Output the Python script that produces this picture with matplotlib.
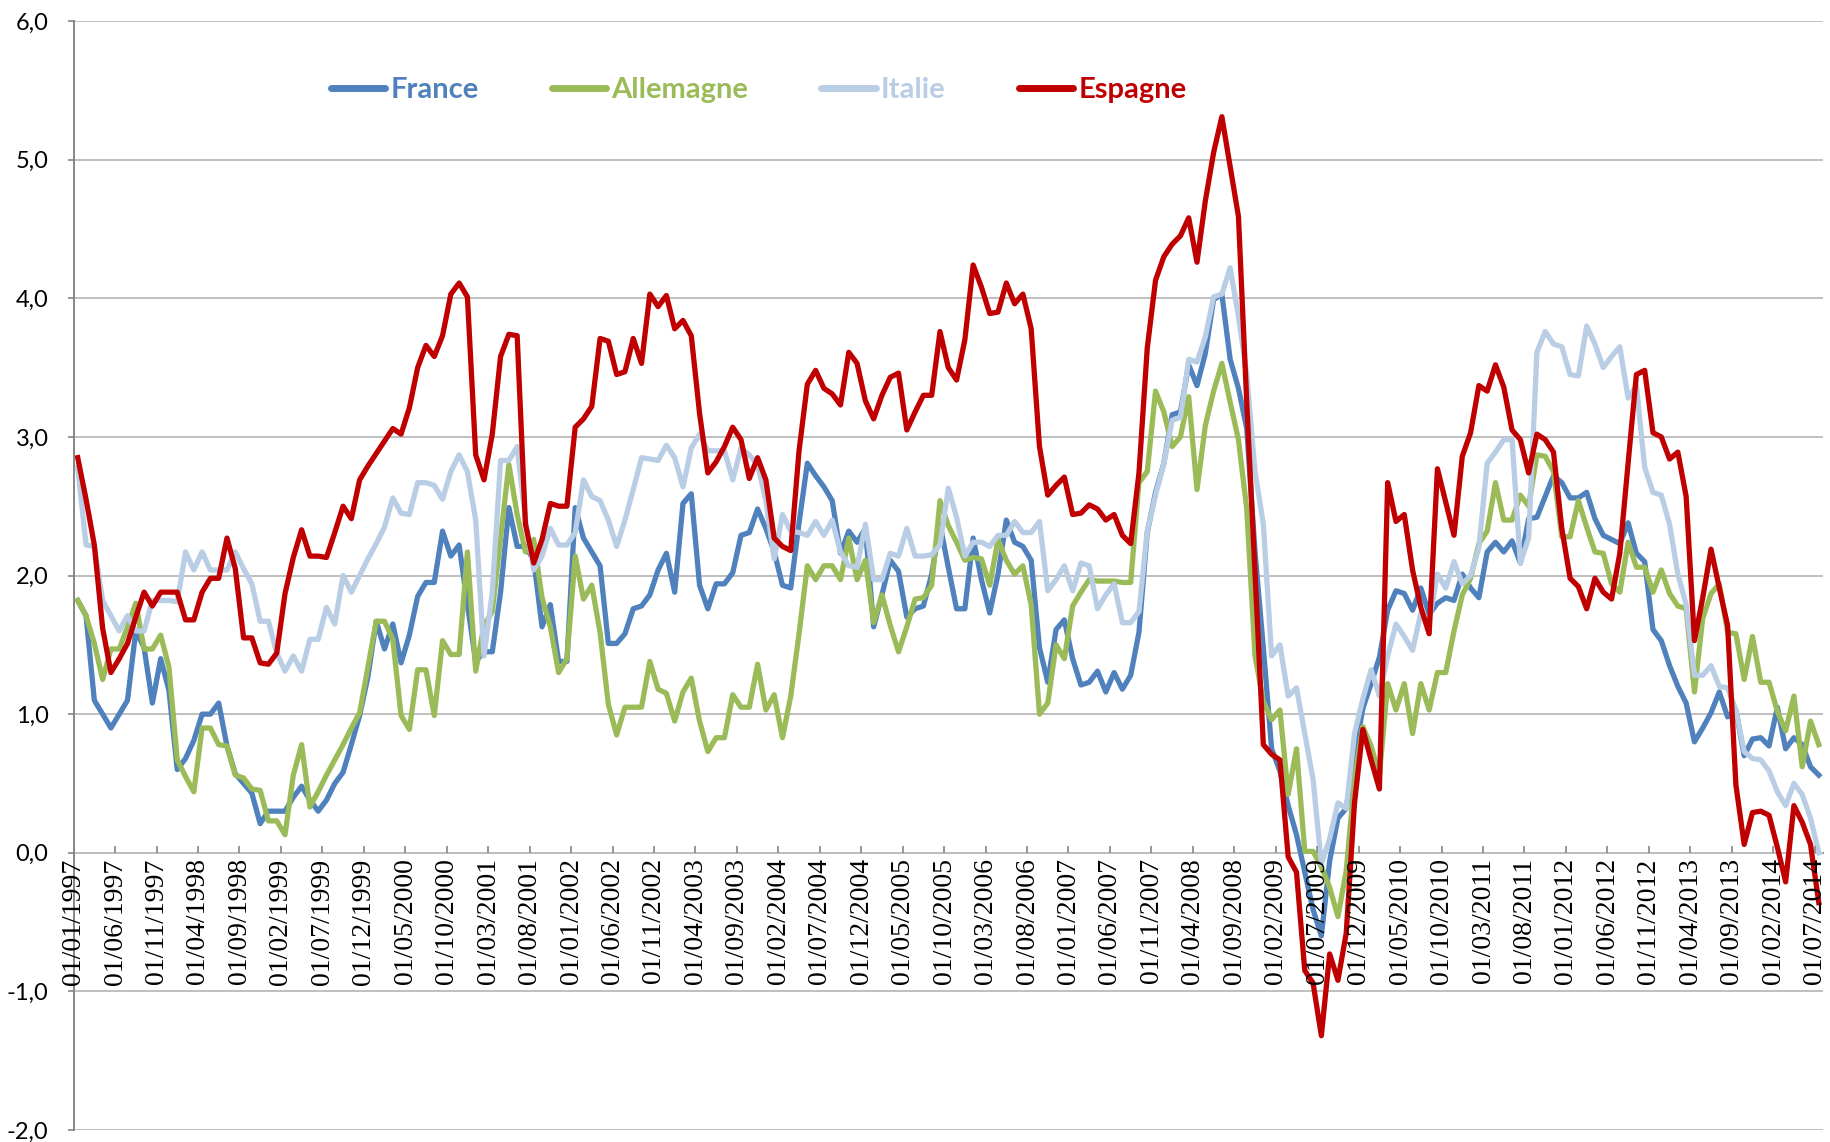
import matplotlib.pyplot as plt
import numpy as np
import pandas as pd
from matplotlib.ticker import FuncFormatter

# monthly points, Jan 1997 -> Jul 2014
months = pd.date_range("1997-01-01", "2014-07-01", freq="MS")

france = [
    1.82, 1.71, 1.10, 1.00, 0.90, 1.00, 1.10, 1.60, 1.48, 1.08, 1.40, 1.17,
    0.60, 0.68, 0.81, 1.00, 1.00, 1.08, 0.77, 0.57, 0.50, 0.43, 0.21, 0.30,
    0.30, 0.30, 0.40, 0.48, 0.38, 0.30, 0.38, 0.50, 0.58, 0.78, 0.99, 1.27,
    1.67, 1.47, 1.65, 1.37, 1.57, 1.85, 1.95, 1.95, 2.32, 2.14, 2.22, 1.79,
    1.38, 1.45, 1.45, 1.88, 2.49, 2.21, 2.21, 2.11, 1.63, 1.79, 1.38, 1.38,
    2.49, 2.27, 2.17, 2.07, 1.51, 1.51, 1.58, 1.76, 1.78, 1.86, 2.04, 2.16,
    1.88, 2.52, 2.59, 1.93, 1.76, 1.94, 1.94, 2.02, 2.29, 2.31, 2.48, 2.34,
    2.17, 1.93, 1.91, 2.38, 2.81, 2.72, 2.64, 2.54, 2.16, 2.32, 2.24, 2.34,
    1.63, 1.86, 2.11, 2.03, 1.70, 1.76, 1.78, 2.01, 2.37, 2.06, 1.76, 1.76,
    2.27, 1.97, 1.73, 2.01, 2.40, 2.24, 2.21, 2.11, 1.48, 1.23, 1.61, 1.68,
    1.40, 1.21, 1.23, 1.31, 1.16, 1.30, 1.18, 1.28, 1.59, 2.31, 2.60, 2.81,
    3.16, 3.18, 3.52, 3.37, 3.60, 3.99, 4.03, 3.56, 3.35, 3.06, 2.17, 1.48,
    0.75, 0.59, 0.34, 0.13, -0.14, -0.41, -0.60, -0.06, 0.25, 0.32, 0.70, 1.04,
    1.22, 1.41, 1.75, 1.89, 1.87, 1.75, 1.91, 1.72, 1.80, 1.84, 1.82, 2.01,
    1.91, 1.84, 2.17, 2.24, 2.17, 2.25, 2.09, 2.41, 2.42, 2.57, 2.72, 2.67,
    2.56, 2.56, 2.60, 2.41, 2.29, 2.26, 2.23, 2.38, 2.16, 2.10, 1.61, 1.53,
    1.35, 1.20, 1.08, 0.80, 0.90, 1.01, 1.16, 0.98, 1.03, 0.70, 0.82, 0.83,
    0.77, 1.05, 0.75, 0.83, 0.78, 0.62, 0.56,
]

allemagne = [
    1.82, 1.71, 1.51, 1.25, 1.47, 1.47, 1.63, 1.80, 1.47, 1.47, 1.57, 1.34,
    0.67, 0.55, 0.44, 0.90, 0.90, 0.78, 0.77, 0.56, 0.54, 0.46, 0.45, 0.23,
    0.23, 0.13, 0.56, 0.78, 0.33, 0.44, 0.56, 0.67, 0.78, 0.90, 1.01, 1.34,
    1.67, 1.67, 1.54, 0.99, 0.89, 1.32, 1.32, 0.99, 1.53, 1.43, 1.43, 2.17,
    1.31, 1.64, 1.74, 2.27, 2.80, 2.44, 2.17, 2.26, 1.84, 1.63, 1.30, 1.40,
    2.14, 1.83, 1.93, 1.59, 1.07, 0.85, 1.05, 1.05, 1.05, 1.38, 1.18, 1.15,
    0.95, 1.16, 1.26, 0.95, 0.73, 0.83, 0.83, 1.14, 1.05, 1.05, 1.36, 1.03,
    1.14, 0.83, 1.13, 1.58, 2.07, 1.97, 2.07, 2.07, 1.97, 2.27, 1.97, 2.11,
    1.66, 1.86, 1.64, 1.45, 1.63, 1.83, 1.84, 1.93, 2.54, 2.36, 2.24, 2.11,
    2.13, 2.12, 1.93, 2.26, 2.11, 2.01, 2.07, 1.79, 1.00, 1.08, 1.50, 1.40,
    1.78, 1.88, 1.97, 1.96, 1.96, 1.96, 1.95, 1.95, 2.67, 2.75, 3.33, 3.18,
    2.93, 3.00, 3.29, 2.62, 3.08, 3.33, 3.53, 3.25, 2.98, 2.48, 1.42, 1.09,
    0.96, 1.03, 0.42, 0.75, 0.01, 0.01, -0.10, -0.25, -0.46, -0.13, 0.53, 0.91,
    0.77, 0.56, 1.22, 1.03, 1.22, 0.86, 1.22, 1.03, 1.30, 1.30, 1.60, 1.86,
    1.98, 2.23, 2.32, 2.67, 2.40, 2.40, 2.58, 2.50, 2.87, 2.86, 2.75, 2.28,
    2.28, 2.54, 2.35, 2.17, 2.16, 1.94, 1.88, 2.24, 2.06, 2.06, 1.88, 2.04,
    1.87, 1.78, 1.76, 1.16, 1.69, 1.87, 1.94, 1.59, 1.58, 1.25, 1.56, 1.23,
    1.23, 1.02, 0.88, 1.13, 0.62, 0.95, 0.78,
]

italie = [
    2.78, 2.22, 2.21, 1.82, 1.71, 1.60, 1.71, 1.60, 1.60, 1.82, 1.82, 1.82,
    1.81, 2.17, 2.04, 2.17, 2.04, 2.04, 2.04, 2.17, 2.05, 1.94, 1.67, 1.67,
    1.44, 1.31, 1.42, 1.31, 1.54, 1.54, 1.77, 1.65, 2.00, 1.88, 2.00, 2.12,
    2.23, 2.35, 2.56, 2.45, 2.44, 2.67, 2.67, 2.65, 2.55, 2.75, 2.87, 2.75,
    2.40, 1.42, 1.88, 2.83, 2.83, 2.93, 2.40, 2.04, 2.14, 2.34, 2.22, 2.22,
    2.31, 2.69, 2.57, 2.54, 2.40, 2.21, 2.40, 2.62, 2.85, 2.84, 2.83, 2.94,
    2.85, 2.64, 2.92, 3.02, 2.90, 2.90, 2.90, 2.69, 2.92, 2.87, 2.80, 2.54,
    2.12, 2.44, 2.32, 2.31, 2.29, 2.39, 2.29, 2.40, 2.17, 2.07, 2.06, 2.37,
    1.97, 1.97, 2.16, 2.14, 2.34, 2.14, 2.14, 2.15, 2.22, 2.63, 2.42, 2.14,
    2.24, 2.24, 2.21, 2.29, 2.29, 2.39, 2.31, 2.31, 2.39, 1.89, 1.97, 2.07,
    1.89, 2.09, 2.07, 1.76, 1.86, 1.94, 1.66, 1.66, 1.74, 2.32, 2.58, 2.81,
    3.12, 3.14, 3.56, 3.54, 3.72, 4.01, 4.03, 4.22, 3.87, 3.45, 2.75, 2.37,
    1.42, 1.50, 1.13, 1.19, 0.86, 0.53, -0.08, 0.10, 0.36, 0.32, 0.86, 1.11,
    1.32, 1.13, 1.42, 1.65, 1.56, 1.46, 1.73, 1.67, 2.01, 1.91, 2.10, 1.94,
    2.00, 2.20, 2.81, 2.89, 2.98, 2.98, 2.09, 2.27, 3.61, 3.76, 3.67, 3.65,
    3.45, 3.44, 3.80, 3.67, 3.50, 3.58, 3.65, 3.28, 3.37, 2.78, 2.60, 2.58,
    2.37, 2.01, 1.79, 1.28, 1.28, 1.35, 1.20, 1.19, 1.03, 0.73, 0.68, 0.67,
    0.59, 0.44, 0.34, 0.50, 0.42, 0.25, 0.00,
]

espagne = [
    2.85, 2.55, 2.22, 1.62, 1.30, 1.40, 1.51, 1.70, 1.88, 1.78, 1.88, 1.88,
    1.88, 1.68, 1.68, 1.88, 1.98, 1.98, 2.27, 2.05, 1.55, 1.55, 1.37, 1.36,
    1.44, 1.87, 2.13, 2.33, 2.14, 2.14, 2.13, 2.31, 2.50, 2.41, 2.69, 2.79,
    2.88, 2.97, 3.06, 3.02, 3.21, 3.50, 3.66, 3.58, 3.73, 4.03, 4.11, 4.01,
    2.87, 2.69, 3.02, 3.58, 3.74, 3.73, 2.37, 2.09, 2.26, 2.52, 2.50, 2.50,
    3.07, 3.13, 3.22, 3.71, 3.69, 3.45, 3.47, 3.71, 3.53, 4.03, 3.94, 4.02,
    3.78, 3.84, 3.73, 3.17, 2.74, 2.82, 2.93, 3.07, 2.98, 2.70, 2.85, 2.69,
    2.27, 2.21, 2.18, 2.90, 3.38, 3.48, 3.35, 3.31, 3.23, 3.61, 3.53, 3.26,
    3.13, 3.30, 3.43, 3.46, 3.05, 3.18, 3.30, 3.30, 3.76, 3.50, 3.41, 3.70,
    4.24, 4.08, 3.89, 3.90, 4.11, 3.96, 4.03, 3.78, 2.93, 2.58, 2.65, 2.71,
    2.44, 2.45, 2.51, 2.48, 2.40, 2.44, 2.29, 2.23, 2.74, 3.64, 4.13, 4.30,
    4.39, 4.45, 4.58, 4.26, 4.70, 5.05, 5.31, 4.95, 4.59, 3.25, 2.02, 0.78,
    0.71, 0.67, -0.03, -0.14, -0.85, -0.94, -1.32, -0.73, -0.92, -0.58, 0.36, 0.89,
    0.67, 0.46, 2.67, 2.39, 2.44, 2.04, 1.77, 1.58, 2.77, 2.53, 2.29, 2.86,
    3.03, 3.37, 3.33, 3.52, 3.36, 3.05, 2.98, 2.74, 3.02, 2.98, 2.89, 2.34,
    1.98, 1.92, 1.76, 1.98, 1.88, 1.83, 2.16, 2.81, 3.45, 3.48, 3.03, 3.00,
    2.84, 2.89, 2.57, 1.53, 1.84, 2.19, 1.91, 1.64, 0.49, 0.06, 0.29, 0.30,
    0.27, 0.04, -0.21, 0.34, 0.22, 0.06, -0.36,
]

series = [
    ("France", france, "#4F81BD"),
    ("Allemagne", allemagne, "#9BBB59"),
    ("Italie", italie, "#B9CDE5"),
    ("Espagne", espagne, "#C00000"),
]

fig = plt.figure(figsize=(18.31, 11.42), dpi=100)
ax = fig.add_axes([0.0402, 0.0105, 0.9554, 0.9711])

# spine moves first: set_position resets the tick labels
for side in ("top", "right"):
    ax.spines[side].set_visible(False)
ax.spines["left"].set_color("#868686")
ax.spines["left"].set_linewidth(1.4)
ax.spines["bottom"].set_position(("data", 0))
ax.spines["bottom"].set_color("#868686")
ax.spines["bottom"].set_linewidth(1.4)
ax.spines["bottom"].set_zorder(1)

# points sit in the middle of each monthly slot
x = np.arange(len(months)) + 0.5
for name, vals, color in series:
    ax.plot(x, vals, color=color, lw=3.8, label=name, solid_joinstyle="round")

ax.set_xlim(0, len(months))
ax.set_ylim(-2, 6)

ax.set_yticks(np.arange(-2, 7))
ax.yaxis.set_major_formatter(FuncFormatter(lambda v, _: f"{v:.1f}".replace(".", ",")))
ax.grid(axis="y", color="#BFBFBF", lw=1.4)

tick_idx = np.arange(0, len(months), 5)
ax.set_xticks(tick_idx)
ax.set_xticklabels([months[i].strftime("%d/%m/%Y") for i in tick_idx],
                   rotation=90, family="Liberation Serif", fontsize=20)
ax.xaxis.set_zorder(3)

ax.tick_params(axis="x", direction="in", length=5, color="#868686", width=1.2, pad=4)
ax.tick_params(axis="y", direction="out", length=4, color="#868686", width=1.2,
               pad=14, labelsize=17)
for lab in ax.get_yticklabels():
    lab.set_family("Lato")

leg = ax.legend(loc="center left", bbox_to_anchor=(0.1386, 0.938), ncol=4, frameon=False,
                prop={"family": "Lato", "weight": "bold", "size": 21},
                handlelength=1.87, handletextpad=0.18, columnspacing=2.5,
                borderpad=0, labelcolor="linecolor")
for line in leg.get_lines():
    line.set_linewidth(5)
    line.set_solid_capstyle("round")

fig.savefig("out.png", dpi=100)
